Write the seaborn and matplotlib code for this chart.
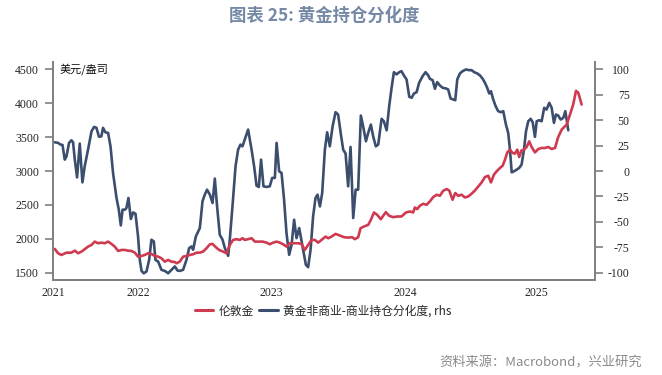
import pandas as pd
import numpy as np
import matplotlib
matplotlib.use("Agg")
import matplotlib.pyplot as plt
from matplotlib.lines import Line2D
import seaborn as sns

gold_t = [2021.878, 2021.903, 2021.928, 2021.966, 2022.003, 2022.028, 2022.052, 2022.078,
          2022.102, 2022.127, 2022.153, 2022.177, 2022.202, 2022.227, 2022.252, 2022.277,
          2022.302, 2022.327, 2022.352, 2022.377, 2022.402, 2022.426, 2022.452, 2022.477,
          2022.501, 2022.527, 2022.551, 2022.576, 2022.601, 2022.626, 2022.651, 2022.676,
          2022.701, 2022.726, 2022.751, 2022.776, 2022.788, 2022.813, 2022.838, 2022.863,
          2022.888, 2022.913, 2022.938, 2022.963, 2022.987, 2023.013, 2023.038, 2023.058,
          2023.083, 2023.107, 2023.137, 2023.163, 2023.187, 2023.212, 2023.237, 2023.262,
          2023.282, 2023.299, 2023.324, 2023.350, 2023.374, 2023.399, 2023.432, 2023.462,
          2023.486, 2023.511, 2023.537, 2023.561, 2023.586, 2023.611, 2023.636, 2023.666,
          2023.698, 2023.723, 2023.748, 2023.773, 2023.798, 2023.823, 2023.848, 2023.873,
          2023.903, 2023.923, 2023.948, 2023.978, 2024.010, 2024.042, 2024.072, 2024.102,
          2024.122, 2024.147, 2024.165, 2024.190, 2024.222, 2024.242, 2024.265, 2024.289,
          2024.317, 2024.334, 2024.354, 2024.379, 2024.409, 2024.439, 2024.471, 2024.504,
          2024.534, 2024.558, 2024.571, 2024.588, 2024.608, 2024.633, 2024.659, 2024.683,
          2024.708, 2024.734, 2024.758, 2024.783, 2024.808, 2024.828, 2024.853, 2024.873,
          2024.895, 2024.921, 2024.945, 2024.970, 2024.995, 2025.020, 2025.045, 2025.070,
          2025.095, 2025.120, 2025.140, 2025.162, 2025.182, 2025.207, 2025.227, 2025.245,
          2025.262, 2025.282, 2025.302, 2025.319, 2025.337, 2025.351, 2025.369, 2025.387,
          2025.407, 2025.426, 2025.444, 2025.469, 2025.494, 2025.519, 2025.544, 2025.568,
          2025.594, 2025.619, 2025.643, 2025.669, 2025.693, 2025.706, 2025.731, 2025.755,
          2025.776, 2025.793, 2025.818]
gold_price = [1849, 1785, 1760, 1794, 1794, 1824, 1785, 1809,
              1845, 1883, 1908, 1957, 1933, 1942, 1933, 1957,
              1923, 1883, 1819, 1834, 1834, 1824, 1819, 1794,
              1735, 1745, 1760, 1785, 1775, 1745, 1735, 1711,
              1661, 1686, 1661, 1656, 1637, 1661, 1735, 1745,
              1760, 1770, 1794, 1794, 1809, 1859, 1918, 1923,
              1874, 1834, 1809, 1785, 1908, 1982, 1993, 1982,
              2007, 1982, 1993, 2007, 1957, 1957, 1957, 1942,
              1918, 1942, 1957, 1942, 1918, 1883, 1933, 1933,
              1933, 1923, 1834, 1908, 1982, 1982, 1942, 1982,
              2031, 2007, 2031, 2071, 2046, 2022, 2016, 2022,
              1993, 2022, 2155, 2180, 2204, 2278, 2387, 2352,
              2288, 2338, 2392, 2338, 2318, 2328, 2328, 2387,
              2402, 2387, 2461, 2437, 2486, 2516, 2501, 2550,
              2615, 2649, 2634, 2708, 2733, 2712, 2575, 2674,
              2634, 2649, 2609, 2624, 2664, 2712, 2772, 2831,
              2911, 2930, 2831, 2945, 2994, 3044, 3078, 3167,
              3275, 3315, 3266, 3256, 3315, 3207, 3305, 3315,
              3355, 3438, 3355, 3275, 3325, 3340, 3340, 3355,
              3325, 3340, 3503, 3612, 3660, 3685, 3833, 3982,
              4184, 4155, 3982]

cot_t = [2021.878, 2021.903, 2021.921, 2021.936, 2021.953, 2021.966, 2021.985, 2022.003,
         2022.015, 2022.028, 2022.045, 2022.065, 2022.085, 2022.102, 2022.127, 2022.153,
         2022.172, 2022.190, 2022.209, 2022.227, 2022.239, 2022.257, 2022.277, 2022.295,
         2022.314, 2022.340, 2022.357, 2022.372, 2022.385, 2022.402, 2022.414, 2022.429,
         2022.447, 2022.464, 2022.482, 2022.501, 2022.514, 2022.527, 2022.544, 2022.564,
         2022.584, 2022.601, 2022.619, 2022.631, 2022.651, 2022.676, 2022.701, 2022.726,
         2022.751, 2022.776, 2022.796, 2022.813, 2022.838, 2022.863, 2022.883, 2022.901,
         2022.913, 2022.933, 2022.963, 2022.983, 2023.000, 2023.017, 2023.038, 2023.058,
         2023.075, 2023.092, 2023.112, 2023.133, 2023.150, 2023.175, 2023.187, 2023.207,
         2023.230, 2023.249, 2023.267, 2023.282, 2023.299, 2023.324, 2023.350, 2023.369,
         2023.387, 2023.404, 2023.421, 2023.439, 2023.462, 2023.486, 2023.504, 2023.524,
         2023.537, 2023.556, 2023.574, 2023.593, 2023.611, 2023.631, 2023.649, 2023.668,
         2023.686, 2023.706, 2023.736, 2023.756, 2023.773, 2023.791, 2023.810, 2023.828,
         2023.843, 2023.861, 2023.878, 2023.898, 2023.915, 2023.935, 2023.956, 2023.978,
         2023.997, 2024.018, 2024.035, 2024.053, 2024.072, 2024.090, 2024.110, 2024.128,
         2024.147, 2024.167, 2024.184, 2024.205, 2024.222, 2024.242, 2024.259, 2024.279,
         2024.297, 2024.322, 2024.339, 2024.360, 2024.379, 2024.397, 2024.414, 2024.434,
         2024.454, 2024.471, 2024.489, 2024.509, 2024.529, 2024.547, 2024.564, 2024.584,
         2024.603, 2024.629, 2024.651, 2024.671, 2024.683, 2024.704, 2024.721, 2024.738,
         2024.758, 2024.779, 2024.803, 2024.820, 2024.838, 2024.858, 2024.873, 2024.888,
         2024.908, 2024.928, 2024.953, 2024.977, 2024.995, 2025.015, 2025.037, 2025.058,
         2025.078, 2025.095, 2025.112, 2025.127, 2025.140, 2025.157, 2025.175, 2025.194,
         2025.215, 2025.232, 2025.252, 2025.269, 2025.282, 2025.295, 2025.312, 2025.332,
         2025.351, 2025.369, 2025.387, 2025.402, 2025.419, 2025.437, 2025.452, 2025.469,
         2025.482, 2025.501, 2025.519, 2025.538, 2025.556, 2025.576, 2025.594, 2025.611,
         2025.626, 2025.643, 2025.661, 2025.681, 2025.696, 2025.706, 2025.718]
cot_spread = [28.3, 27.7, 26.0, 25.7, 11.2, 14.5, 27.7, 30.2,
              28.3, 11.2, -6.3, 27.0, -11.2, 4.6, 21.0, 39.1,
              43.4, 42.5, 33.6, 34.2, 42.5, 38.1, 37.5, 24.3,
              -2.0, -26.6, -38.1, -53.6, -38.1, -38.1, -36.5, -26.6,
              -47.3, -40.8, -42.1, -64.5, -87.5, -98.4, -100.7, -99.0,
              -87.5, -67.7, -69.4, -87.5, -89.1, -97.3, -98.4, -100.7,
              -97.3, -94.0, -98.0, -98.4, -97.3, -87.5, -75.9, -74.3,
              -77.6, -64.5, -56.2, -29.9, -23.3, -18.4, -23.3, -31.5,
              -7.5, -34.9, -62.8, -67.7, -75.9, -83.5, -67.7, -34.9,
              4.6, 21.0, 26.0, 24.3, 30.9, 40.8, 21.0, 4.6,
              -14.5, -15.7, 11.2, -15.1, -15.7, -15.1, -6.8, -6.8,
              27.7, -0.3, -1.9, -28.3, -61.1, -82.5, -72.7, -48.0,
              -66.1, -56.2, -77.6, -92.4, -94.7, -77.6, -44.7, -26.6,
              -23.3, -34.9, -21.7, 21.0, 38.1, 24.3, 44.1, 57.9,
              55.6, 35.9, 21.0, 17.1, -15.1, 23.7, -46.3, -18.4,
              -18.4, 54.6, 44.1, 29.3, 37.5, 45.7, 34.2, 24.3,
              26.0, 51.4, 49.0, 40.1, 63.8, 81.9, 97.3, 95.1,
              97.3, 98.3, 94.1, 90.1, 73.1, 72.1, 76.3, 77.6,
              86.9, 93.4, 97.3, 94.1, 90.8, 89.4, 81.0, 87.5,
              84.2, 81.9, 81.3, 80.3, 71.4, 70.4, 69.7, 90.1,
              96.1, 98.3, 100.0, 99.3, 99.3, 97.3, 96.1, 94.1,
              90.8, 86.9, 81.9, 76.3, 78.6, 70.4, 63.8, 58.9,
              57.9, 58.9, 45.7, 37.5, 21.0, -1.3, -0.3, 1.3,
              3.0, 6.3, 21.0, 39.1, 49.0, 51.4, 48.0, 33.6,
              49.0, 50.0, 49.0, 62.2, 60.5, 67.1, 62.2, 47.4,
              55.6, 54.6, 50.7, 52.3, 58.9, 50.7, 40.1]

year_labels = ["2021", "2022", "2023", "2024", "2025"]
left_ticks = [1500, 2000, 2500, 3000, 3500, 4000, 4500]
right_ticks = [-100, -75, -50, -25, 0, 25, 50, 75, 100]

RED = "#cf3a50"
BLUE = "#3c4e6e"
SPINE = "#7f7f7f"

sns.set_style("white")
plt.rcParams["font.family"] = ["Noto Sans CJK SC", "DejaVu Sans"]

gold_df = pd.DataFrame({"t": gold_t, "price": gold_price})
cot_df = pd.DataFrame({"t": cot_t, "spread": cot_spread})

fig = plt.figure(figsize=(6.62, 3.75), dpi=100)
ax = fig.add_axes([53 / 662, 95 / 375, 542 / 662, 218 / 375])
ax2 = ax.twinx()

sns.lineplot(data=cot_df, x="t", y="spread", ax=ax2, color=BLUE, lw=1.9,
             sort=False, estimator=None)
sns.lineplot(data=gold_df, x="t", y="price", ax=ax, color=RED, lw=1.9,
             sort=False, estimator=None)

# red line on top of the blue one
ax.set_zorder(ax2.get_zorder() + 1)
ax.patch.set_visible(False)

x0, x1 = 2021.865, 2025.918
ax.set_xlim(x0, x1)
ax.set_ylim(1390, 4610)
ax2.set_ylim(-107.33, 107.33)

for a in (ax, ax2):
    a.set_xlabel("")
    a.set_ylabel("")
    for side in ("left", "right", "bottom"):
        a.spines[side].set_color(SPINE)
        a.spines[side].set_linewidth(1.4)
    a.spines["top"].set_visible(False)
ax.spines["right"].set_visible(False)
ax2.spines["left"].set_visible(False)

serif = {"family": "Liberation Serif", "size": 8.5}

ax.set_yticks(left_ticks)
ax.set_yticklabels([str(v) for v in left_ticks], fontdict=serif)
ax.tick_params(axis="y", direction="out", length=6, width=1.2, color=SPINE, pad=4)

ax2.set_yticks(right_ticks)
ax2.set_yticklabels([str(v) for v in right_ticks], fontdict=serif)
ax2.tick_params(axis="y", direction="out", length=6, width=1.2, color=SPINE, pad=19)
for lab in ax2.get_yticklabels():
    lab.set_horizontalalignment("right")

# year boundaries as tick marks, labels in the middle of each year
ax.set_xticks([2022, 2023, 2024, 2025])
ax.set_xticklabels([])
ax.set_xticks([x0, 2022.5, 2023.5, 2024.5, 2025.48], minor=True)
ax.set_xticklabels(year_labels, minor=True, fontdict=serif)
ax.tick_params(axis="x", which="major", direction="out", length=6, width=1.2, color="#333333")
ax.tick_params(axis="x", which="minor", length=0, pad=5)
ax2.tick_params(axis="x", length=0)

ax.text(0.013, 0.968, "美元/盎司", transform=ax.transAxes, ha="left", va="center",
        fontsize=8, color="#111111")

fig.text(0.49, 1 - 16 / 375, "图表 25: 黄金持仓分化度", ha="center", va="center",
         fontsize=12.5, fontweight="bold", color="#7589a6")

handles = [Line2D([], [], color=RED, lw=2.2), Line2D([], [], color=BLUE, lw=2.2)]
fig.legend(handles, ["伦敦金", "黄金非商业-商业持仓分化度, rhs"], loc="center",
           bbox_to_anchor=(323 / 662, 1 - 311 / 375), ncol=2, frameon=False,
           fontsize=8.5, handlelength=1.6, handletextpad=0.4, columnspacing=0.5)

fig.text(642 / 662, 1 - 363 / 375, "资料来源：Macrobond，兴业研究", ha="right", va="center",
         fontsize=9.5, color="#8a8a8a")

fig.savefig("out.png", dpi=100)
